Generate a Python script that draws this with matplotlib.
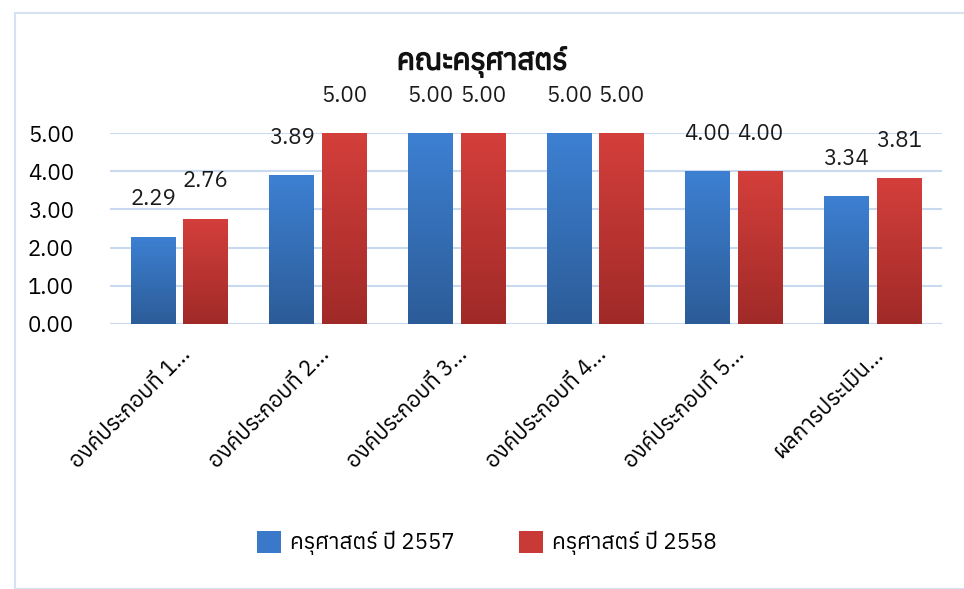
import matplotlib
matplotlib.use("Agg")
import matplotlib.pyplot as plt
from matplotlib import font_manager, patheffects
from matplotlib.ft2font import FT2Font
from matplotlib.patches import Rectangle
import numpy as np

categories = ["องค์ประกอบที่ 1...", "องค์ประกอบที่ 2...", "องค์ประกอบที่ 3...",
              "องค์ประกอบที่ 4...", "องค์ประกอบที่ 5...", "ผลการประเมิน..."]
series_names = ["ครุศาสตร์ ปี 2557", "ครุศาสตร์ ปี 2558"]
values_2557 = [2.29, 3.89, 5.00, 5.00, 4.00, 3.34]
values_2558 = [2.76, 5.00, 5.00, 5.00, 4.00, 3.81]
yticks = [0, 1, 2, 3, 4, 5]

# find a font that actually has Thai glyphs
thai = []
for f in font_manager.fontManager.ttflist:
    try:
        if 0x0E04 in FT2Font(f.fname).get_charmap():
            thai.append(f.name)
    except Exception:
        pass
thai = sorted(set(thai))
plt.rcParams["font.family"] = thai[:1] + ["DejaVu Sans"]

fig = plt.figure(figsize=(9.64, 5.89), dpi=100)
ax = fig.add_axes([110 / 964, 1 - 324 / 589, 832 / 964, 191 / 589])

x = np.arange(len(categories))
w = 0.32
off = 0.19
b1 = ax.bar(x - off, values_2557, w, color="#3a78c9", zorder=3, label=series_names[0])
b2 = ax.bar(x + off, values_2558, w, color="#c93a37", zorder=3, label=series_names[1])

# vertical gradient inside each bar
def shade(bars, top, bottom):
    grad = np.linspace(0, 1, 256).reshape(-1, 1)
    cmap = matplotlib.colors.LinearSegmentedColormap.from_list("g", [bottom, top])
    for bar in bars:
        bx, by = bar.get_x(), bar.get_y()
        bw, bh = bar.get_width(), bar.get_height()
        im = ax.imshow(grad, cmap=cmap, aspect="auto", origin="lower",
                       extent=[bx, bx + bw, by, by + bh], zorder=3.5)
        im.set_clip_path(bar)

shade(b1, "#3d80d2", "#2c5c98")
shade(b2, "#d43f3b", "#a02a28")

for bars, vals in ((b1, values_2557), (b2, values_2558)):
    for bar, v in zip(bars, vals):
        ax.annotate(f"{v:.2f}", (bar.get_x() + bar.get_width() / 2, v),
                    xytext=(0, 27), textcoords="offset points", ha="center", va="center",
                    fontsize=16, color="#1a1a1a", annotation_clip=False)

ax.set_xlim(-0.5, len(categories) - 0.5)
ax.set_ylim(0, 5)
ax.set_yticks(yticks)
ax.set_yticklabels([f"{t:.2f}" for t in yticks], fontsize=16)
ax.set_xticks(x)
ax.set_xticklabels(categories, rotation=45, ha="right", rotation_mode="anchor", fontsize=16)
ax.tick_params(axis="y", length=0, pad=26)
ax.tick_params(axis="x", length=0, pad=14)
ax.yaxis.grid(True, color="#c9daf0", linewidth=1.5, zorder=0)
for s in ax.spines.values():
    s.set_visible(False)
ax.axhline(0, color="#c9daf0", linewidth=1.5, zorder=1)

fig.text(0.5, 1 - 62 / 589, "คณะครุศาสตร์", ha="center", va="center", fontsize=21,
         color="#111111",
         path_effects=[patheffects.withStroke(linewidth=1.0, foreground="#111111")])

fig.legend(handles=[b1, b2], labels=series_names, loc="center", bbox_to_anchor=(0.505, 1 - 543 / 589),
           ncol=2, frameon=False, fontsize=16, handlelength=1.1, handleheight=1.2,
           handletextpad=0.4, columnspacing=2.9)

fig.patches.append(Rectangle((15 / 964, 0), 1, 1 - 13 / 589, transform=fig.transFigure,
                             fill=False, edgecolor="#d5e2f3", linewidth=1.5))

fig.savefig("out.png", dpi=100)
